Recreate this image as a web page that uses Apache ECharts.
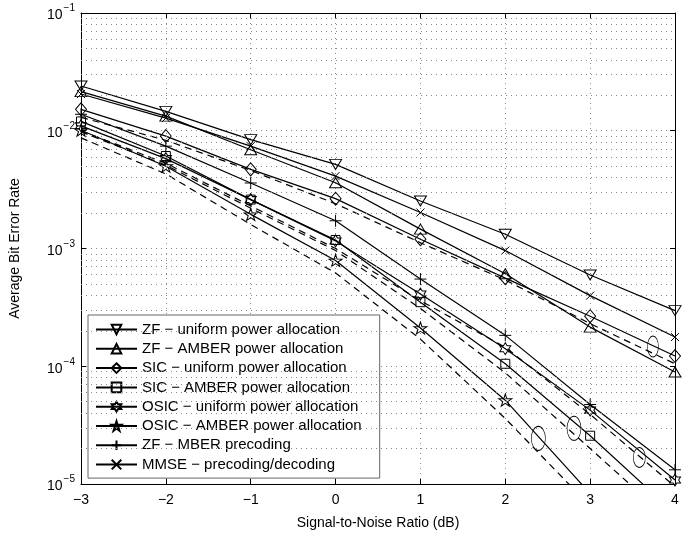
<!DOCTYPE html>
<html>
<head>
<meta charset="utf-8">
<script src="https://cdn.jsdelivr.net/npm/echarts@6/dist/echarts.min.js"></script>
<style>
  html, body { margin: 0; padding: 0; background: #fff; }
  #chart { width: 700px; height: 535px; }
</style>
</head>
<body>
<div id="chart"></div>
<script>
const snrDb = [-3, -2, -1, 0, 1, 2, 3, 4]

// simulated BER curves (solid, with markers)
const zfUniform   = [0.0240, 0.0146, 0.0084, 0.00518, 0.00253, 0.00132, 5.96e-4, 2.97e-4]
const zfAmber     = [0.0215, 0.0133, 0.0069, 0.00362, 0.00146, 6.1e-4, 2.15e-4, 8.95e-5]
const sicUniform  = [0.0152, 0.0090, 0.0047, 0.00265, 0.00120, 5.6e-4, 2.66e-4, 1.22e-4]
const sicAmber    = [0.0120, 0.0061, 0.0026, 0.00118, 3.5e-4, 1.05e-4, 2.57e-5, 5.6e-6]
const osicUniform = [0.0110, 0.0058, 0.0026, 0.00116, 4.1e-4, 1.41e-4, 4.24e-5, 1.08e-5]
const osicAmber   = [0.0101, 0.0050, 0.00195, 7.9e-4, 2.11e-4, 5.15e-5, 8.3e-6, 1.4e-6]
const zfMber      = [0.0138, 0.0074, 0.0036, 0.00172, 5.5e-4, 1.83e-4, 4.73e-5, 1.32e-5]
const mmseDec     = [0.0205, 0.0128, 0.0074, 0.00412, 0.00202, 9.6e-4, 3.98e-4, 1.77e-4]

// dashed curves (no legend entry)
const dashA = [0.0130, 0.0083, 0.0046, 0.0024, 0.00112, 5.4e-4, 2.3e-4, 1.05e-4]
const dashB = [0.0100, 0.0053, 0.0023, 0.00100, 3.6e-4, 1.45e-4, 3.9e-5, 9.5e-6]
const dashC = [0.0098, 0.0051, 0.0022, 9.6e-4, 3.1e-4, 8.8e-5, 2.0e-5, 4.5e-6]
const dashD = [0.0087, 0.0043, 0.0016, 6.2e-4, 1.7e-4, 3.6e-5, 6.5e-6, 1.0e-6]

// ellipse annotations: [snr, ber]
const ellipseAt = [[3.74, 1.47e-4], [2.39, 2.44e-5], [2.81, 2.97e-5], [3.58, 1.68e-5]]

const legendNames = [
  'ZF − uniform power allocation',
  'ZF − AMBER power allocation',
  'SIC − uniform power allocation',
  'SIC − AMBER power allocation',
  'OSIC − uniform power allocation',
  'OSIC − AMBER power allocation',
  'ZF − MBER precoding',
  'MMSE − precoding/decoding'
]

const FONT = '"Liberation Sans", Arial, Helvetica, sans-serif'
const DOTS = { color: '#888', type: [1, 4], width: 1 }

// marker shapes (MATLAB style)
const SYM = {
  down: 'path://M0,0L2,0L1,1.732Z',
  up: 'path://M1,0L2,1.732L0,1.732Z',
  hexa: 'path://M0,-1L-0.289,-0.5L-0.866,-0.5L-0.577,0L-0.866,0.5L-0.289,0.5L0,1L0.289,0.5L0.866,0.5L0.577,0L0.866,-0.5L0.289,-0.5Z',
  penta: 'path://M0,-1L-0.2245,-0.309L-0.951,-0.309L-0.363,0.118L-0.588,0.809L0,0.382L0.588,0.809L0.363,0.118L0.951,-0.309L0.2245,-0.309Z',
  plus: 'path://M6,0L6,12M0,6L12,6',
  cross: 'path://M0,0L8,8M0,8L8,0',
  ellipse: 'path://M0,-1A1,1,0,1,1,0,1A1,1,0,1,1,0,-1Z'
}

// dotted minor grid at 2..9 x 10^k
const minorGrid = []
for (let k = -5; k <= -2; k++) {
  for (let m = 2; m <= 9; m++) minorGrid.push(m * Math.pow(10, k))
}

const pairs = (arr) => snrDb.map((x, i) => [x, arr[i]])

function solid(name, arr, symbol, size) {
  return {
    name,
    type: 'line',
    data: pairs(arr),
    symbol,
    symbolSize: size,
    showAllSymbol: true,
    lineStyle: { color: '#000', width: 1.2 },
    itemStyle: { color: 'rgba(0,0,0,0)', borderColor: '#000', borderWidth: 1 },
    emphasis: { disabled: true },
    z: 3
  }
}

function dashed(arr) {
  return {
    type: 'line',
    data: pairs(arr),
    symbol: 'none',
    lineStyle: { color: '#000', width: 1.2, type: [7, 5] },
    emphasis: { disabled: true },
    z: 2
  }
}

const chart = echarts.init(document.getElementById('chart'))

const gridAndNotes = dashed(dashA)
gridAndNotes.markLine = {
  silent: true,
  precision: 10,
  symbol: ['none', 'none'],
  label: { show: false },
  lineStyle: DOTS,
  emphasis: { disabled: true },
  data: minorGrid.map((v) => ({ yAxis: v }))
}
gridAndNotes.markPoint = {
  silent: true,
  symbol: SYM.ellipse,
  label: { show: false },
  itemStyle: { color: 'rgba(0,0,0,0)', borderColor: '#000', borderWidth: 0.8 },
  data: ellipseAt.map((c, i) => ({ coord: c, symbolSize: [[11, 21], [14, 24], [14, 24], [12, 20]][i] }))
}

const series = [
  solid(legendNames[0], zfUniform, SYM.down, [12, 10]),
  solid(legendNames[1], zfAmber, SYM.up, [12, 10]),
  solid(legendNames[2], sicUniform, 'diamond', [11, 13]),
  solid(legendNames[3], sicAmber, 'rect', 9),
  solid(legendNames[4], osicUniform, SYM.hexa, [11, 12]),
  solid(legendNames[5], osicAmber, SYM.penta, [13, 12]),
  solid(legendNames[6], zfMber, SYM.plus, 12),
  solid(legendNames[7], mmseDec, SYM.cross, 8),
  gridAndNotes,
  dashed(dashB),
  dashed(dashC),
  dashed(dashD)
]

const supLabel = (v) => {
  const e = Math.round(Math.log10(v))
  return '{b|10}{s|' + (e < 0 ? '−' : '') + Math.abs(e) + '}'
}

const option = {
  animation: false,
  textStyle: { fontFamily: FONT },
  grid: { left: 77, right: 25, top: 13, bottom: 49 },
  legend: {
    data: legendNames,
    orient: 'vertical',
    left: 88,
    top: 315,
    itemWidth: 41,
    itemHeight: 12,
    itemGap: 4.3,
    padding: [7, 18, 6, 7],
    borderColor: '#666',
    borderWidth: 1,
    borderRadius: 0,
    backgroundColor: '#fff',
    textStyle: { fontFamily: FONT, fontSize: 15, color: '#000' }
  },
  xAxis: [
    {
      type: 'value',
      min: -3,
      max: 4,
      interval: 1,
      position: 'bottom',
      axisLine: { onZero: false, lineStyle: { color: '#000', width: 1 } },
      axisTick: { inside: true, length: 5, lineStyle: { color: '#000' } },
      axisLabel: {
        color: '#000', fontSize: 14, fontFamily: FONT, margin: 9,
        formatter: (v) => String(v).replace('-', '−')
      },
      splitLine: { show: true, lineStyle: DOTS },
      name: 'Signal-to-Noise Ratio (dB)',
      nameLocation: 'middle',
      nameGap: 32,
      nameTextStyle: { color: '#000', fontSize: 14, fontFamily: FONT }
    },
    {
      type: 'value',
      min: -3,
      max: 4,
      interval: 1,
      position: 'top',
      axisLine: { onZero: false, lineStyle: { color: '#000', width: 1 } },
      axisTick: { inside: true, length: 5, lineStyle: { color: '#000' } },
      axisLabel: { show: false },
      splitLine: { show: false }
    }
  ],
  yAxis: [
    {
      type: 'log',
      logBase: 10,
      min: 1e-5,
      max: 1e-1,
      position: 'left',
      axisLine: { show: true, onZero: false, lineStyle: { color: '#000', width: 1 } },
      axisTick: { show: true, inside: true, length: 5, lineStyle: { color: '#000' } },
      axisLabel: {
        color: '#000', margin: 6,
        formatter: supLabel,
        rich: {
          b: { fontSize: 14, fontFamily: FONT, color: '#000', verticalAlign: 'bottom' },
          s: { fontSize: 10, fontFamily: FONT, color: '#000', verticalAlign: 'bottom', padding: [0, 0, 9, 1] }
        }
      },
      splitLine: { show: true, lineStyle: DOTS },
      name: 'Average Bit Error Rate',
      nameLocation: 'middle',
      nameGap: 59,
      nameTextStyle: { color: '#000', fontSize: 14, fontFamily: FONT }
    },
    {
      type: 'log',
      logBase: 10,
      min: 1e-5,
      max: 1e-1,
      position: 'right',
      axisLine: { show: true, onZero: false, lineStyle: { color: '#000', width: 1 } },
      axisTick: { show: true, inside: true, length: 5, lineStyle: { color: '#000' } },
      axisLabel: { show: false },
      splitLine: { show: false }
    }
  ],
  series
}

chart.setOption(option)
</script>
</body>
</html>
